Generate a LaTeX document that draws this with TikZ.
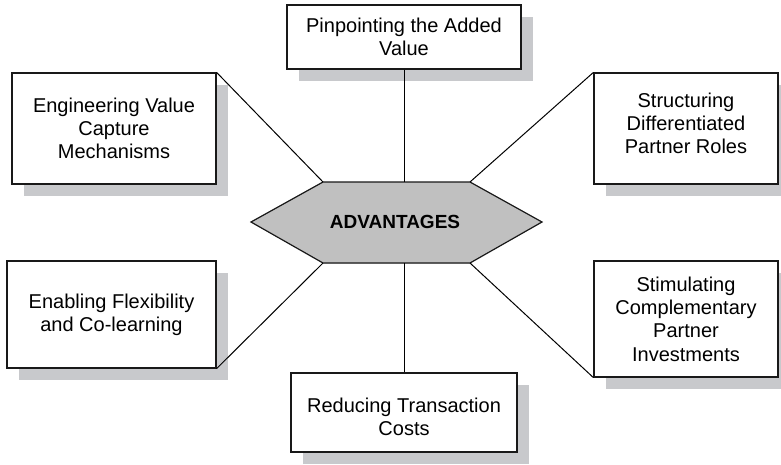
\documentclass[tikz,border=0pt]{standalone}
\usepackage{fontspec}
\setmainfont{Liberation Sans}
\usetikzlibrary{shadows}
\definecolor{shade}{RGB}{200,201,204}
\definecolor{hexfill}{RGB}{192,192,192}
\begin{document}
\begin{tikzpicture}[x=1pt,y=-1pt,
  txt/.style={align=center, inner sep=0pt, font=\fontsize{20}{23.3}\selectfont},
  box/.style={txt, draw=black!90, line width=1.2pt, fill=white,
    drop shadow={shadow xshift=12pt, shadow yshift=-12pt, fill=shade, opacity=1}},
  link/.style={draw=black, line width=1pt}]
\useasboundingbox (0,0) rectangle (781,464);
% boxes
\node[box, minimum width=234, minimum height=64] (top) at (404,37) {Pinpointing the Added\\Value};
\node[box, minimum width=204, minimum height=111] (eng) at (114,128.5) {Engineering Value\\Capture\\Mechanisms};
\node[box, minimum width=184, minimum height=111,
  label={[txt, yshift=5pt]center:Structuring\\Differentiated\\Partner Roles}] (str) at (686,128.5) {};
\node[box, minimum width=209, minimum height=107] (ena) at (111.5,314.5) {Enabling Flexibility\\and Co-learning};
\node[box, minimum width=184, minimum height=116] (sti) at (686,319) {Stimulating\\Complementary\\Partner\\Investments};
\node[box, minimum width=226, minimum height=79,
  label={[txt, yshift=-4pt]center:Reducing Transaction\\Costs}] (red) at (404,412.5) {};
% hexagon
\coordinate (h1) at (251,222);
\coordinate (h2) at (323,182);
\coordinate (h3) at (470,182);
\coordinate (h4) at (542,222);
\coordinate (h5) at (470,263);
\coordinate (h6) at (323,263);
\coordinate (hT) at (404,182);
\coordinate (hB) at (404,263);
\fill[shade, xshift=12pt, yshift=-12pt] (h1) -- (h2) -- (h3) -- (h4) -- (h5) -- (h6) -- cycle;
\draw[fill=hexfill, line width=1.2pt, draw=black!90] (h1) -- (h2) -- (h3) -- (h4) -- (h5) -- (h6) -- cycle;
\node[font=\fontsize{19}{23}\selectfont\bfseries] (adv) at (395,222) {ADVANTAGES};
% connectors
\draw[link] (top.south) -- (hT);
\draw[link] (hB) -- (red.north);
\draw[link] (eng.north east) -- (h2);
\draw[link] (str.north west) -- (h3);
\draw[link] (ena.south east) -- (h6);
\draw[link] (sti.south west) -- (h5);
\end{tikzpicture}
\end{document}
